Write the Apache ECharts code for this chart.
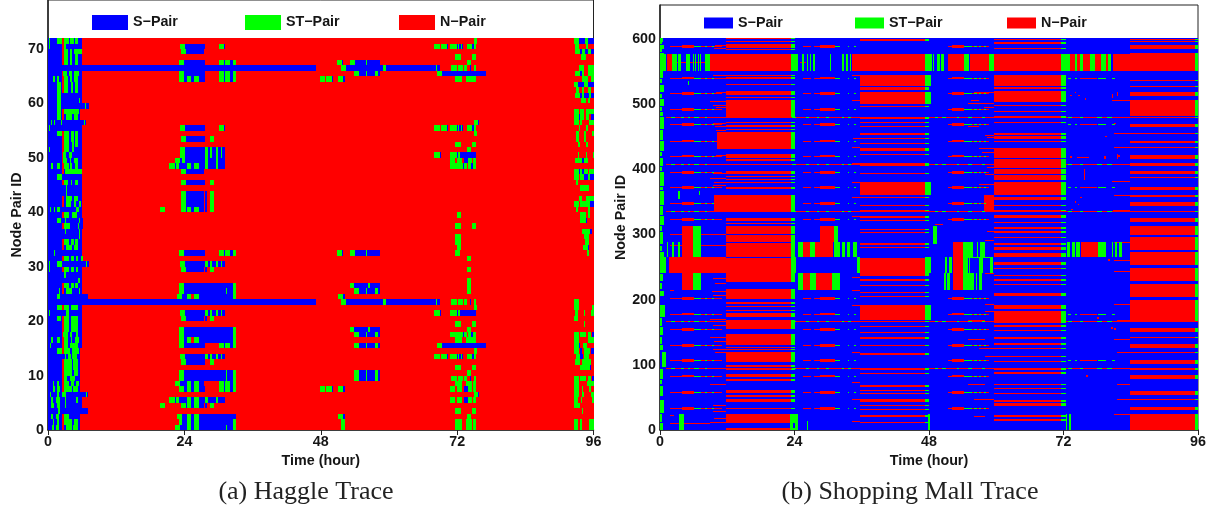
<!DOCTYPE html>
<html><head><meta charset="utf-8"><style>html,body{margin:0;padding:0;background:#fff}#c{width:1230px;height:512px}</style>
<script src="https://cdn.jsdelivr.net/npm/echarts@6/dist/echarts.min.js"></script></head><body><div id="c"></div>
<script>
const legendNames=['S\u2212Pair','ST\u2212Pair','N\u2212Pair'];
const xTicks=[0,24,48,72,96];

/* ---------- (a) Haggle: row groups, runs are [t0,t1,state] with S = blue, T = green ---------- */
const M1=[[23.2,24.1,'T'],[24.1,27.6,'S'],[30.1,30.9,'T'],[30.9,31.1,'S']];
const M2=[[23.4,24.25,'T'],[24.25,27.4,'S']];
const M3=[[23,23.9,'T'],[23.9,27.6,'S'],[30.1,30.9,'T'],[30.9,31.1,'S'],[31.1,32,'T'],[32,32.6,'S'],[32.6,33,'T']];
const M4=[[23,23.9,'T'],[23.9,24.4,'S'],[24.4,25.1,'T'],[25.1,25.7,'S'],[25.7,26.5,'T'],[26.5,27.6,'S'],[30.1,30.9,'T'],[30.9,31.1,'S'],[31.1,32,'T'],[32,32.6,'S'],[32.6,33,'T']];
const M5=[[23.4,24.25,'T'],[24.25,27.6,'S'],[28.5,29.3,'T']];
const M6=[[23.4,24.25,'T'],[24.25,27.4,'S'],[27.6,28,'S'],[28.5,29.3,'T']];
const M7=[[19.7,20.6,'T'],[23.4,24.25,'T'],[24.25,24.4,'S'],[24.4,25.1,'T'],[25.1,25.7,'S'],[25.7,26.5,'T'],[26.5,27.4,'S'],[27.6,28,'S'],[28.5,29.3,'T']];
const M8=[[23.2,24.1,'T'],[24.1,27.6,'S'],[27.6,28.1,'T'],[28.1,28.5,'S'],[28.5,28.9,'T'],[28.9,29.6,'S'],[29.6,29.9,'T'],[29.9,30.4,'S'],[30.4,30.6,'T'],[30.6,31.1,'S']];
const M9=[[21.3,22.3,'T'],[22.3,22.6,'S'],[22.6,23,'T'],[23,24.4,'S'],[24.4,25.1,'T'],[25.1,25.7,'S'],[25.7,26.5,'T'],[26.5,27.6,'S'],[27.6,28.1,'T'],[28.1,29.6,'S'],[29.6,29.9,'T'],[29.9,31.1,'S']];
const M10=[[22.3,23.2,'T'],[23.2,23.6,'S'],[23.6,24.1,'T'],[24.1,27.6,'S'],[27.6,28.1,'T'],[28.1,29.6,'S'],[29.6,29.9,'T'],[29.9,31.1,'S']];
const M11=[[23,23.9,'T'],[23.9,31.3,'S'],[31.3,31.5,'T'],[31.5,32.6,'S'],[32.6,33,'T']];
const M12=[[23,23.9,'T'],[23.9,32.6,'S'],[32.6,33,'T']];
const M13=[[22.3,23.2,'T'],[23.2,24.4,'S'],[24.4,25.1,'T'],[25.1,25.7,'S'],[25.7,26.5,'T'],[26.5,31.3,'S'],[31.3,31.5,'T'],[31.5,32.6,'S'],[32.6,33,'T']];
const M14=[[23,23.6,'T'],[23.6,24.4,'S'],[24.4,25.1,'T'],[25.1,25.7,'S'],[25.7,26.5,'T'],[26.5,32.6,'S'],[32.6,33,'T']];
const M15=[[22.7,23.6,'T'],[23.6,24.4,'S'],[24.4,25.1,'T'],[25.1,25.7,'S'],[25.7,26.5,'T'],[26.5,33,'S']];
const M16=[[22.7,23.6,'T'],[23.6,24.4,'S'],[24.4,25.1,'T'],[25.7,26.5,'T'],[26.5,32.6,'S'],[32.6,33,'T']];
const M17=[[23,23.9,'T'],[23.9,24.4,'S'],[24.4,25.1,'T'],[25.7,26.5,'T'],[26.5,32.6,'S'],[32.6,33,'T']];
const M18=[[22.3,23.2,'T'],[23.2,24.4,'S'],[24.4,25.1,'T'],[25.1,25.7,'S'],[25.7,26.5,'T'],[26.5,27.4,'S'],[30.1,30.9,'T'],[30.9,31.1,'S'],[31.1,32,'T'],[32,32.6,'S'],[32.6,33,'T']];
const H1=[[50.97,51.9,'T'],[51.9,52.2,'S']];
const H2=[[51.5,52.2,'T']];
const H3=[[47.8,48.7,'T'],[49,50,'T'],[50,50.1,'S'],[51.1,52,'T'],[52,52.2,'S']];
const H4=[[53.8,54.7,'T'],[54.7,55.9,'S'],[55.9,56.1,'T'],[56.1,57.5,'S'],[57.5,58,'T'],[58,58.5,'S']];
const H5=[[53.2,53.9,'T'],[53.9,56.4,'S'],[56.4,56.6,'T'],[56.6,58.5,'S']];
const H6=[[51.5,52.4,'T'],[52.4,59,'S'],[59,59.4,'T'],[59.4,68.2,'S'],[68.2,68.4,'T'],[68.4,68.9,'S']];
const H7=[[50.9,51.7,'T'],[51.7,52,'S'],[53.2,54,'T'],[54,55.9,'S'],[55.9,56.1,'T'],[56.1,58.5,'S']];
const L1=[[68,68.9,'T'],[69.2,70.2,'T'],[70.2,70.4,'S'],[70.8,71.9,'T'],[71.9,72.1,'S'],[72.1,72.4,'T'],[72.4,72.6,'S'],[72.6,72.9,'T'],[72.9,73.1,'S'],[73.7,74.6,'T'],[74.6,75,'S'],[75,75.3,'T']];
const L2=[[71.7,72.6,'T'],[74.7,75.4,'T']];
const L3=[[73.7,74.5,'T']];
const L4=[[70.9,71.9,'T'],[72.1,73,'T'],[73.2,73.8,'T'],[74.2,74.5,'S'],[74.9,75.3,'T'],[75,75.3,'S']];
const L5=[[68.4,69.3,'T'],[69.3,77.1,'S']];
const L6=[[71.7,72.8,'T'],[73.5,74.6,'T'],[74.8,75.3,'T']];
const L7=[[74.9,75.6,'T'],[75.6,75.9,'S']];
const L8=[[74.9,75.5,'T']];
const L9=[[68,68.9,'T'],[68.9,69.2,'S'],[70.8,71.9,'T'],[71.9,72.2,'S'],[72.2,72.5,'T'],[72.5,75.3,'S']];
const L10=[[70.8,71.7,'T'],[71.9,72.8,'T'],[73.2,74,'S'],[74,74.6,'T'],[74.8,75.3,'T']];
const L11=[[70.8,71.7,'T'],[71.9,72.8,'T'],[73.1,73.8,'S'],[74,74.4,'T'],[74.4,74.8,'S'],[74.8,75.3,'T']];
const hagglePairs=[[[70,55],M1],[[69,47],M2],[[67,65,32,15],M3],[[64,7],M4],[[53,45,12],M5],[[43,42,41,29,20],M6],[[40,4],M7],[[51,50,30,21,13],M8],[[48,5],M9],[[49],M10],[[25,9,10],M11],[[26,18,17],M12],[[0],M13],[[1],M14],[[2],M15],[[24],M16],[[16],M17],[[8],M18],
[[2,24],H1],[[1,0],H2],[[64,7],H3],[[65,25,17,15,10,9],H4],[[26,18],H5],[[66,23],H6],[[67,32],H7],
[[70,55,13],L1],[[68,64,52,37,19,16,11,3],L2],[[67,51,31,29,27,26,25,18,10,2],L3],[[48,17,9,66,23],L4],[[65,15],L5],[[64,16,8,0,1],L6],[[56,6],L7],[[71,54,22,14],L8],[[50,21],L9],[[49,5,7],L10],[[48,17],L11]];
const haggleIsolated=[[39,71.9,72.6],[35,71.7,72.6],[34,71.7,72.6],[33,71.9,72.6],[32,71.7,72.5]];
/* left strip: row, end of blue, solid (no red gap at 2.4-2.8), green runs */
const haggleStrip=[
[71,5.9,0,[[.2,.3],[1.6,2.4],[2.8,3.7],[3.9,4.5],[4.7,5.3]]],[70,5.9,0,[[.2,.4],[2.8,3.2]]],[69,5.9,0,[[2.8,3.6],[3.8,4.3],[4.5,5.9]]],[68,5.9,0,[[2.8,3.6],[3.8,4.3],[4.7,5.3]]],[67,5.9,0,[[2.8,3.6],[3.8,4.3],[4.7,5.3]]],
[66,47.1,1,[]],[65,5.9,0,[[2.6,3.4],[3.7,4.2],[4.5,5.5]]],[64,5.9,0,[[.9,1.3],[1.6,2],[2.9,3.6],[3.8,4.2],[4.5,5.3]]],[63,6,0,[[1.6,2.3],[2.8,3.6],[4,4.4],[4.7,5.3]]],[62,6,0,[[1.6,2.3],[2.8,3.6],[4,4.4],[4.7,5.3]]],
[61,5.9,1,[[1.6,2.3]]],[60,6,1,[[1.6,2.3],[5.4,5.6]]],[59,7.3,1,[[1.6,2.3],[6.5,6.7]]],[58,5.7,0,[[1.6,2.3],[2.8,5.5]]],[57,5.7,0,[[1.6,2.3],[3.2,4.2],[4.5,5.2]]],[56,6.6,1,[[.5,.7],[1,1.2],[2.2,2.5],[6.3,6.5]]],
[55,6,1,[[.2,.4]]],[54,5.9,0,[[1.6,2.4],[2.9,3.7],[4,4.5],[4.8,5.2]]],[53,6,0,[[2.9,3.7],[4,4.5],[4.8,5.2]]],[52,6,0,[[2.9,3.7],[4.2,4.5],[4.8,5.2]]],[51,6,0,[[.2,.4],[2.9,3.7],[4.2,4.5]]],[50,5.9,0,[[2.6,3.2],[3.7,4.3]]],[49,5.9,0,[[2.6,3.4],[3.8,4.1],[4.5,5.2]]],[48,5.9,0,[[.5,.8],[1.6,2.1],[2.8,3.7],[3.9,4.3],[4.7,5.3]]],
[47,5.9,0,[[3,5.9]]],[46,5.9,1,[[1.6,2.4]]],[45,5.9,0,[[2.8,3.6],[4,4.3],[4.7,5.2]]],[44,5.9,1,[[3.1,3.2]]],[43,5.9,1,[[3.1,3.2]]],[42,5.9,0,[[3.2,4.2],[4.5,5.3]]],[41,5.9,0,[[3.2,4.1],[4.5,5],[5.5,5.8]]],[40,5.9,1,[[.3,.5],[1,1.3],[1.6,2.1],[5,5.5]]],
[39,5.9,0,[[2.9,3.7],[4.2,5.1]]],[38,6.1,1,[[1.6,2.3],[3,3.2],[5.5,5.7]]],[37,6.1,0,[[2.9,3.9],[5.2,5.5]]],[36,5.9,1,[[3,3.2],[5.4,5.7]]],[35,6,1,[[5.4,5.7]]],[34,5.9,0,[[2.8,3.7],[4,4.5],[4.8,5.3]]],[33,5.9,0,[[3.2,4.2],[4.5,5.3]]],[32,5.9,1,[[1,1.3]]],
[31,6.1,0,[[2.8,3.7],[4,4.5],[5,5.2],[5.8,6.1]]],[30,7.3,1,[[.2,.4],[1.6,2.4],[6.6,6.8]]],[29,6,0,[[.2,.4],[2.9,3.7],[4,4.5],[5,5.3]]],[28,6,1,[[2.9,3.1]]],[27,5.9,1,[[5.3,5.7]]],[26,5.9,0,[[2.8,3.7],[4,4.5],[4.8,5.3]]],[25,5.9,0,[[1.9,2.1],[3.2,4.2],[5.5,5.7]]],[24,7,1,[[1.6,2.1]]],[23,47.1,1,[]],
[22,5.9,0,[[1.6,2.4],[2.9,3.7],[4,5.2]]],[21,5.9,1,[[.2,.4],[3.2,3.7]]],[20,5.9,0,[[1.6,2.3],[2.8,3.7],[4,5.3]]],[19,5.9,0,[[2.8,3.7],[4,5.3]]],[18,5.9,0,[[2.8,3.7],[4,5.3]]],[17,5.9,0,[[2.6,3.5],[3.8,4.2],[5,5.3]]],[16,5.9,0,[[.5,.8],[1.6,2.1],[2.8,3.6],[4.1,4.3],[4.8,5.4]]],[15,5.9,0,[[.3,.5],[2.8,3.5],[3.8,5.2]]],
[14,5.7,0,[[1.6,2.4],[2.8,3.8],[4.2,5.5]]],[13,5.7,1,[[3,3.2],[3.6,4],[4.3,5.1]]],[12,5.7,0,[[2.9,4.2],[4.4,5.2]]],[11,5.7,0,[[2.9,4.2],[4.4,5.2]]],[10,5.7,0,[[2.9,4.2],[4.5,5.3]]],[9,5.7,0,[[2.8,3.4],[3.9,4.8]]],[8,5.7,0,[[.9,1.1],[1.6,2],[2.9,3.7],[4,4.5],[5,5.5]]],[7,5.7,0,[[.8,1.2],[1.6,2.1],[2.8,4.2],[4.4,5.2]]],
[6,7,1,[[.3,.5],[1.6,2],[2.5,2.8],[2.9,3.1],[6.6,6.8]]],[5,5.9,1,[[.5,.9],[1.4,2.1],[3,3.2],[5,5.3]]],[4,5.9,1,[[.5,1],[1.6,2.1],[3,3.2]]],[3,7,1,[[1.7,2.1]]],[2,5.7,0,[[.5,.8],[1.4,2],[2.9,3.7]]],[1,5.7,0,[[.9,1.1],[1.6,2],[2.8,4.2],[4.5,5.2]]],[0,5.7,0,[[.7,1],[1.4,2],[3.2,4.2],[4.4,5.2]]]];
/* right strip: [row,t0,t1,state] */
const haggleTail=[[71,92.6,93.4,'T'],[71,93.4,94.5,'S'],[71,94.5,95,'T'],[71,95,96,'S'],[70,92.8,93.4,'T'],[70,94.7,95,'T'],[69,92.8,93.6,'T'],[69,93.7,94,'S'],[69,94,94.5,'T'],[69,94.5,95,'S'],[69,95,95.5,'T'],[69,95.5,96,'S'],[68,93.8,94.6,'T'],[66,93.5,94.3,'T'],[66,95,96,'T'],[65,92.8,93.7,'T'],[65,93.7,93.9,'S'],[65,93.9,94.3,'T'],[65,95,96,'T'],[64,94,95,'T'],[64,95.5,96,'T'],[63,92.6,93.3,'T'],[63,93.3,94.3,'S'],[63,94.3,95,'T'],[63,95,96,'S'],[62,93,93.5,'T'],[62,94,94.3,'T'],[62,95,95.5,'T'],[61,92.8,93.6,'T'],[61,93.6,94,'S'],[61,94,94.4,'T'],[61,94.4,95.2,'S'],[61,95.2,95.5,'T'],[61,95.5,96,'S'],[60,93.8,94.6,'T'],[60,95,95.4,'T'],
[58,92.6,93.4,'T'],[58,93.7,94.3,'T'],[58,94.7,96,'T'],[57,92.6,93.4,'T'],[57,93.4,93.7,'S'],[57,93.7,94.3,'T'],[57,94.7,95.2,'T'],[57,95.5,96,'S'],[56,92.6,93.4,'T'],[56,93.7,94,'T'],[56,95.2,96,'T'],[55,93.4,93.7,'T'],[55,94.7,95,'T'],[54,93,93.4,'T'],[54,94.3,94.6,'T'],[54,95.7,96,'T'],[53,93,93.4,'T'],[53,94.3,94.6,'T'],[52,93.3,93.7,'T'],[52,94.6,95,'T'],[50,93.3,93.5,'T'],[50,94.6,94.8,'T'],[50,95.9,96,'T'],[49,92.8,94,'T'],[49,94,94.3,'S'],[49,94.3,95,'T'],
[47,92.6,93.4,'T'],[47,93.4,93.6,'S'],[47,93.6,94,'T'],[47,94,94.3,'S'],[47,94.3,95,'T'],[47,95.2,96,'T'],[46,92.6,93.4,'T'],[46,93.7,94.4,'T'],[46,94.4,95,'S'],[46,95,95.3,'T'],[46,95.4,96,'S'],[45,92.9,93.3,'T'],[44,93.7,95.2,'T'],[42,93.5,94,'T'],[42,94.7,96,'T'],[41,92.6,93.4,'T'],[41,93.6,95.3,'T'],[41,95.4,96,'S'],[40,92.9,93.2,'T'],[40,95,95.3,'T'],[39,93.7,94.6,'T'],[39,95,95.3,'T'],[38,93.7,94.6,'T'],[38,94.6,94.8,'S'],[36,94,95.4,'T'],[36,95.4,95.7,'S'],[35,94.3,95.2,'T'],[34,94.5,95.2,'T'],[33,94.2,95,'T'],[33,95,95.2,'S'],[32,94.8,95.2,'T'],
[23,92.6,93.4,'T'],[22,92.6,93.4,'T'],[22,95.7,96,'T'],[21,92.8,93.3,'T'],[21,94.3,94.5,'T'],[21,95.5,96,'T'],[20,92.6,93.3,'T'],[19,94.4,94.5,'T'],[17,92.6,93.5,'T'],[17,93.7,94.6,'T'],[17,95,95.6,'T'],[17,95.7,96,'S'],[16,92.6,93.4,'T'],[16,95.1,96,'T'],[15,92.6,93.5,'T'],[15,93.5,93.7,'S'],[15,94.1,94.8,'T'],[14,92.6,93.5,'T'],[14,93.7,94,'S'],[14,94.4,95.3,'T'],[14,95.5,96,'S'],[13,93,93.6,'T'],[13,93.7,94.2,'S'],[13,94.4,95.2,'T'],[12,92.8,93.6,'T'],[12,94,95.5,'T'],[11,93.7,95.3,'T'],[11,95.3,95.6,'S'],[9,92.6,93.4,'T'],[9,93.7,94.6,'T'],[9,95,95.6,'T'],[9,95.7,96,'S'],[8,92.6,93.4,'T'],[8,94.8,96,'T'],[7,92.6,93.5,'T'],[7,94,94.2,'T'],[7,95.2,95.5,'T'],[6,92.6,93.4,'T'],[6,94,94.4,'T'],[6,95.6,96,'T'],[5,92.6,93.2,'T'],[5,93.8,94,'T'],[5,95.8,96,'T'],[4,92.6,93.6,'T'],[3,94,94.2,'T'],[1,92.6,93.3,'T'],[1,93.7,94,'T'],[1,95.2,96,'T'],[0,92.6,93.3,'T'],[0,93.7,94,'T'],[0,95.2,96,'T']];

/* ---------- (b) Shopping Mall: [vLow,vHigh] bands for the four daily columns ---------- */
const mallBandsA=[[599.2,600.7],[595.6,597],[585.9,592.5],[582.3,583.8],[550.6,577.2],[543,544.5],[539,541],[529,530.7],[514,520],[510,511],[480.6,506],[471,473],[465,468],[461,462],[431.5,457],[418,423],[412.6,415],[392,397],[388,389.5],[383,384.5],[379.5,380.5],[369,373],[335,360],[320.5,326],[316.5,318],[300.5,313],[288.5,299.5],[276.5,287.5],[265.5,275.5],[227.5,264.5],[201,217],[194,197],[188,190],[182.5,184],[173,179],[155,168.7],[130,147],[126,128],[122.5,123.5],[104.8,119.6],[96,99.7],[92.5,93.5],[81,86],[75.6,78],[56,61],[51,53.7],[43.5,47.5],[32,34],[10,24.5],[0,3]];
const mallBandsB=[[597,600],[550.6,577],[527,544],[521,526],[500,519],[495,496.5],[476.4,479.5],[471.5,473],[465,466],[453,455],[447,448],[440,441],[428,433],[422,423],[405,409],[393,394],[360,381],[356,358],[344,345],[336,337],[326,328],[321.5,322.5],[307,309],[302,304],[284,287],[279.5,280.5],[237,264],[229,231],[222,223],[210,212],[204,205],[168.7,192],[165.5,166.5],[157.5,159.5],[150,151],[139.5,142],[129,131],[115,117.6],[92,94.6],[86.5,87.5],[66.5,69],[60,62],[55,56],[43.5,47],[38,39],[31,32],[20.5,23],[12,13]];
const mallBandsC=[[599,600.5],[592.6,596],[585,586],[550.6,577],[528,544],[523,526],[503.6,520],[497,499],[489,490],[479,481],[471,473],[452,455],[447,451],[442,443],[425,432.5],[417,424.3],[402,415.6],[392.6,401],[383,391],[360,381],[353,358],[344,345],[336,337],[325.6,329.8],[318,319],[307.7,310.8],[302,305],[294.5,295.5],[284,287],[276,280],[266,272],[253,258],[247,248],[236,238.5],[229,232],[223,224],[206,210],[185,191],[164.6,182.5],[158,161],[152,153],[139.5,142],[131,134],[125,126],[113,114],[105,106],[92,95],[86,89],[69,70.5],[62.5,65],[56,57],[43.5,46],[37,41],[20.5,23],[14,17]];
const mallBandsD=[[599,600.5],[596.5,597.5],[584.4,590],[550.6,577.7],[535,537],[526,527],[512,518],[481.6,506],[479,480],[464.7,469],[455,456],[439.7,444],[433,434],[416,421.7],[405,409],[392.6,397],[386.5,387.5],[368,373],[358,361],[344,349.7],[335,336],[319.5,325],[299.6,313],[276,295.5],[253.6,273],[228.7,248.5],[204,224],[167,200],[150.8,156],[141.5,142.5],[125.8,131.4],[119,120],[102,107],[92.5,95],[78,83.8],[53.7,59.8],[47,48],[30.7,34.8],[0,24.5]];
const mallDayColumns=[[mallBandsA,11.8,23.3,24],[mallBandsB,35.7,47.3,48],[mallBandsC,59.6,71.6,72.4],[mallBandsD,83.9,95.4,96]];
/* periodic rows carrying a thin line, short thick blocks and green dashes */
const mallDashRows=[588.4,539.9,515.8,491.8,468.3,443.3,420.2,395.2,371.7,347.6,323.1,201.9,177.9,154.4,129.9,106.3,82.8,57.8,33.2];
const mallDashLines=[[1.8,11],[25.6,27],[27.5,31.4],[51.4,58.7]];
const mallDashBlocks=[[3.9,6],[28.6,31.2],[52.1,54.3]];
const mallDashGreens=[[6,7.3],[8,8.4],[9.2,9.6],[31.2,32.1],[33.5,33.8],[34.6,35],[54.3,55.6],[56,56.6],[57,57.3],[57.8,58.2]];
const mallSparseRows=[539.9,468.3,371.7,177.9,106.3];
const mallSparseLines=[[75,78]];
const mallSparseGreens=[[72.8,73.4],[74,74.4],[78.2,79.6],[80.6,81.2]];
const mallLongRows=[479.5,407,335,167,94.6];
const mallLongGreens=[[2,2.6],[3.7,4.2],[5,5.3],[6,7],[8,8.4],[23.5,24.2],[26,26.6],[28,28.3],[29.6,30.2],[32.4,32.9],[33.6,34],[49,49.6],[50.4,51],[53,53.4],[55,55.6],[57.4,58],[72.8,73.5],[75,75.4],[78,78.8],[79.8,80.6]];
/* extra red rectangles [t0,t1,vLow,vHigh] */
const mallExtraRed=[[1.2,2.1,551,577],[9,11.8,551,577],[34.2,35.7,551,577],[47.3,47.6,551,577],[51.4,54.3,551,577],[55.3,58.7,551,577],[73.2,74,551,577],[74.4,75,551,577],[75.5,76.7,551,577],[77.6,78.7,551,577],[79.6,79.9,551,577],[80.8,83.9,551,577],
[10.2,11.8,431.5,457],[9.7,11.8,335,360],[57.8,59.6,336,360],[3.9,5.8,266,313],[28.6,31,288,313],[25.6,26.8,266,288],[27.7,30.9,266,288],[52.2,54.1,241,288],[75.2,78.2,265,288],[1.6,11.8,241,265],[25.6,26.8,215,241],[27.7,30.7,215,241],[3.9,5.8,215,241],[52.2,54.1,215,241],
[9.8,11.8,590,591],[9.6,11.8,585,586.5],[9.4,11.8,543,544],[9.4,11.8,539.5,540.5],[10,11.8,518,519],[8.9,11.8,503,504],[9.5,11.8,498,499],[10,11.8,494,495],[9.5,11.8,470,471],[9.8,11.8,465,466],[10,11.8,460,461],[10,11.8,421,422],[9.4,11.8,394,395],[9,11.8,385,386],[9.6,11.8,379,380],[9.5,11.8,375,376],
[9.4,11.8,232,233],[9.8,11.8,225,226],[9.2,11.8,213,214],[9.5,11.8,206,207],[8.9,11.8,169,170],[9.5,11.8,160,161],[8.9,11.8,141,142],[9.6,11.8,135,136],[9.4,11.8,123,124],[9.8,11.8,118,119],[9,11.8,69,70],[9.5,11.8,38,39],[9.5,11.8,28,29],[9,11.8,12,13],[9.6,11.8,18,19],[1.7,9,10,11],[1.7,2.5,214,215],[1.7,2.5,22,23],
[34.2,35.7,543,544],[34.2,35.7,506,507],[34.2,35.7,479,480],[34.5,35.7,447,448],[34.2,35.7,433,434],[34.2,35.7,409,410],[34.2,35.7,379,380],[34.2,35.7,356,357],[34.2,35.7,328,329],[34.2,35.7,233,234],[34.2,35.7,214,215],[34.2,35.7,190,191],[34.2,35.7,119,120],[34.2,35.7,72,73],[34.2,35.7,47,48],[34.2,35.7,13,14],
[56,59.6,517,518],[55.5,57,506,507],[55,59.6,501,502],[57.8,59.6,495,496],[55,57,466,467],[58,59.6,452,453],[58.4,59.6,448,449],[57,59.6,432,433],[57.5,59.6,425,426],[58,59.6,407,408],[58.4,59.6,402,403],[57,59.6,376,377],[58,59.6,392,393],[58.4,59.6,305,306],[58,59.6,290,291],[58,59.6,240,241],[58,59.6,193,194],[58,59.6,181,182],[55,58,168,169],[57,59.6,125,126],[58,59.6,113,114],[55,58,138,139],[55,58,69,70],[56,59.6,46,47],[56,58,20,21],
[80.6,83.9,505,506],[81,83.9,455,456],[81,83.9,433,434],[80.6,83.9,381,382],[81,83.9,360,361],[80.8,83.9,336,337],[81,83.9,288,289],[81,83.9,260,261],[81,83.9,243,244],[81,83.9,193,194],[81.5,83.9,168,169],[81,83.9,139,140],[81.5,83.9,118,119],[81.5,83.9,69,70],[81.5,83.9,47,48],[81,83.9,23,24],
[1.8,9,564,565],[25,26,564,565],[49,50.5,315,316],[1.8,11.8,300,301],[25,30,276,277],[1.8,11.8,283,284],
[73.2,73.5,512,514],[74,74.3,517,519],[74.6,74.9,512,514],[75.8,76.1,507,509],[80.6,80.9,510,516],[81.5,81.8,513,518],[73.2,73.5,418,420],[74.4,76.5,418,419],[79.3,79.6,416,421],[81.5,81.8,416,423],[75.7,75.9,384,400],[79.4,79.7,449,451],[74,74.3,349,351],[75,75.3,356,358],[81.1,81.4,469,471],[81.8,82.1,419,422],[73.4,73.7,337,339],[74.5,74.8,345,347],[80,80.3,260,262],[78,78.3,170,173],[80.5,80.8,155,158],[81,81.3,153,156],[76,76.3,82,84]];
/* green rectangles [t0,t1,vLow,vHigh] */
const mallExtraGreen=[[0,1,551,577],[2.1,3.1,551,577],[3.2,3.8,551,577],[4.6,5.1,551,577],[5.2,5.4,551,577],[5.8,6,551,577],[6.2,6.5,551,577],[6.7,7,551,577],[7.1,7.4,551,577],[8.1,8.9,551,577],[23.8,24.6,551,577],[25.4,25.7,551,577],[26.2,26.4,551,577],[26.8,27,551,577],[27.3,27.7,551,577],[30.3,30.5,551,577],[32.4,32.8,551,577],[33.2,33.6,551,577],[33.9,34,551,577],[47.6,48.5,551,577],[48.7,48.9,551,577],[49.4,50,551,577],[50.2,50.7,551,577],[54.3,55.2,551,577],[58.7,59.6,551,577],[72.4,73.2,551,577],[74,74.4,551,577],[75,75.5,551,577],[76.7,77.6,551,577],[78.7,79.6,551,577],[79.9,80.5,551,577],
[5.8,7.3,266,313],[1.2,1.5,266,288],[2.1,2.5,266,288],[3.2,3.6,266,288],[31,31.8,288,313],[23.4,24.1,266,288],[24.7,25.5,266,288],[26.8,27.7,266,288],[31,32.1,266,288],[32.4,33,266,288],[33.3,33.9,266,288],[34.4,35.1,266,288],[54.1,55.9,265,288],[56.5,56.8,265,288],[57.1,58,265,288],[72.6,73.2,265,288],[73.5,74,265,288],[74.3,75,265,288],[78.2,79.6,265,288],[80.6,80.9,265,288],[81.2,81.6,265,288],[81.9,82.4,265,288],[48.8,49.4,285,313],
[23.4,24.3,241,265],[35.2,35.6,241,265],[47.3,48.3,241,265],[50.9,51.2,241,265],[51.5,52.1,241,265],[54.1,55,241,265],[55.2,55.4,241,265],[57,57.7,241,265],[58.8,59.5,241,265],[55,59.5,265,265.7],
[5.8,7.3,215,241],[24.7,25.5,215,241],[26.8,27.8,215,241],[30.7,32.1,215,241],[50.6,51,215,241],[51.3,51.8,215,241],[54.1,56,215,241],[56.3,56.5,215,241],[56.9,57.4,215,241],[3.4,4.2,0,24],[23.2,23.8,0,24],[24.1,24.6,0,24],[47.8,48.2,0,24],[72.4,72.7,0,24],[73,73.4,0,24],
[47.3,48.3,527,544],[47.3,48.3,500,519],[47.3,48.3,360,381],[47.3,48.3,168.7,192],[7,7.2,360,366],[3.2,3.6,354,366],[26.2,26.4,0,14],[5,5.2,530,535],
[0,.6,596,601],[0,.4,592,595],[0,.7,585,591],[0,.3,580,584],[0,.7,560,578],[0,.6,540,550],[0,.4,532,538],[0,.7,518,530],[0,.35,510,516],[0,.65,497,508],[0,.4,490,495],[0,.55,482,488],[0,.7,462,480],[0,.5,445,460],[0,.65,428,443],[0,.4,420,426],[0,.6,405,418],[0,.35,398,403],[0,.7,375,396],[0,.45,368,373],[0,.75,345,366],[0,.55,330,343],[0,.7,315,328],[0,.4,306,313],[0,.6,285,304],[0,.35,275,283],[0,.65,266,273],[0,1,241,265],[0,.5,228,239],[0,.35,216,226],[0,.65,205,214],[0,.85,174,192],[0,.4,160,172],[0,.6,145,158],[0,.35,132,143],[0,.5,122,130],[.3,1.1,96,119],[0,.55,78,94],[0,.35,70,76],[0,.5,52,68],[0,.8,26,46],[0,.4,12,24],[0,.55,0,10]];

/* ---------- assemble the rectangles from the arrays above ---------- */
const hRed=[[0,96,0,72]],hBlue=[],hGreen=[];
const hPut=(row,t0,t1,s)=>(s==='S'?hBlue:hGreen).push([t0,t1,row,row+1]);
hagglePairs.forEach(([rows,runs])=>rows.forEach(r=>runs.forEach(x=>hPut(r,x[0],x[1],x[2]))));
haggleIsolated.forEach(([r,a,b])=>hPut(r,a,b,'T'));
haggleStrip.forEach(([r,end,solid,greens])=>{
  if(solid)hPut(r,0,end,'S');else{hPut(r,0,2.4,'S');hPut(r,2.8,end,'S');}
  greens.forEach(g=>hPut(r,g[0],g[1],'T'));
});
haggleTail.forEach(([r,a,b,s])=>hPut(r,a,b,s));

const mBlue=[[0,96,0,601]],mRed=[],mGreen=[];
mallDashRows.forEach(v=>{
  mallDashLines.forEach(l=>mRed.push([l[0],l[1],v-.5,v+.5]));
  mallDashBlocks.forEach(b=>mRed.push([b[0],b[1],v-2,v+2]));
  mallDashGreens.forEach(g=>mGreen.push([g[0],g[1],v-.5,v+.5]));
});
mallSparseRows.forEach(v=>{
  mallSparseLines.forEach(l=>mRed.push([l[0],l[1],v-.5,v+.5]));
  mallSparseGreens.forEach(g=>mGreen.push([g[0],g[1],v-.5,v+.5]));
});
mallLongRows.forEach(v=>{
  mRed.push([1,96,v-.6,v+.6]);
  mallLongGreens.forEach(g=>mGreen.push([g[0],g[1],v-.6,v+.6]));
});
mallDayColumns.forEach(([bands,t0,t1,t2])=>bands.forEach(b=>{
  mRed.push([t0,t1,b[0],b[1]]);
  mGreen.push([t1,t2,b[0],b[1]]);
}));
mallExtraRed.forEach(r=>mRed.push(r));
mallExtraGreen.forEach(r=>mGreen.push(r));

function rectItem(params,api){
  const a=api.coord([api.value(0),api.value(3)]),b=api.coord([api.value(1),api.value(2)]);
  const x=Math.round(a[0]),y=Math.round(a[1]);
  return {type:'rect',shape:{x,y,width:Math.max(1,Math.round(b[0])-x),height:Math.max(1,Math.round(b[1])-y)},style:{fill:api.visual('color')}};
}
const colors={S:'#0000ff',T:'#00ff00',N:'#ff0000'};
const rectSeries=(name,color,data,i)=>({type:'custom',name,xAxisIndex:i,yAxisIndex:i,renderItem:rectItem,data,
  itemStyle:{color},encode:{x:[0,1],y:[2,3]},clip:true,silent:true,animation:false,progressive:0});
const font={fontFamily:'Liberation Sans',fontWeight:'bold',fontSize:14.3,color:'#151515'};
const gridDefs=[{left:48,top:0,width:545.5,height:430},{left:660,top:5,width:538,height:425}];
const xAxisDef=i=>({gridIndex:i,type:'value',min:xTicks[0],max:xTicks[4],interval:24,name:'Time (hour)',nameLocation:'middle',nameGap:19,nameTextStyle:font,
  axisLine:{show:true,onZero:false,lineStyle:{color:'#222',width:1.5}},axisTick:{show:false},splitLine:{show:false},axisLabel:{...font,margin:5}});
const xTopDef=i=>({gridIndex:i,type:'value',position:'top',min:xTicks[0],max:xTicks[4],interval:24,axisLine:{show:false},axisTick:{show:true,inside:true,length:5,lineStyle:{color:'#222'}},axisLabel:{show:false},splitLine:{show:false}});
const yAxisDef=(i,max,interval)=>({gridIndex:i,type:'value',min:0,max,interval,name:'Node Pair ID',nameLocation:'middle',nameGap:i?29:21,nameTextStyle:font,
  axisLine:{show:true,onZero:false,lineStyle:{color:'#222',width:1.5}},axisTick:{show:false},splitLine:{show:false},axisLabel:{...font,margin:4,showMaxLabel:false}});
const legendAt=(name,left,top,w,h)=>({data:[name],left,top,itemWidth:w,itemHeight:h,icon:'rect',itemGap:0,padding:0,selectedMode:false,textStyle:{...font,padding:[0,0,0,0]},itemStyle:{borderWidth:0}});

const chart=echarts.init(document.getElementById('c'),null,{renderer:'canvas'});
chart.setOption({
  animation:false,backgroundColor:'#fff',
  grid:gridDefs.map(g=>({...g,show:true,borderColor:'#222',borderWidth:1,backgroundColor:'#fff',containLabel:false})),
  xAxis:[xAxisDef(0),xAxisDef(1),xTopDef(0),xTopDef(1)],
  yAxis:[yAxisDef(0,79,10),yAxisDef(1,652,100)],
  legend:[legendAt(legendNames[0],92,15,36,15),legendAt(legendNames[1],245,15,36,15),legendAt(legendNames[2],399,15,36,15),
          legendAt(legendNames[0],704,16,29,11),legendAt(legendNames[1],855,16,29,11),legendAt(legendNames[2],1007,16,29,11)],
  series:[rectSeries(legendNames[2],colors.N,hRed,0),rectSeries(legendNames[0],colors.S,hBlue,0),rectSeries(legendNames[1],colors.T,hGreen,0),
          rectSeries(legendNames[0],colors.S,mBlue,1),rectSeries(legendNames[2],colors.N,mRed,1),rectSeries(legendNames[1],colors.T,mGreen,1)],
  graphic:[
    {type:'text',x:306,y:492,style:{text:'(a) Haggle Trace',font:'26px "Liberation Serif"',fill:'#222',textAlign:'center',textVerticalAlign:'middle'}},
    {type:'text',x:910,y:492,style:{text:'(b) Shopping Mall Trace',font:'26px "Liberation Serif"',fill:'#222',textAlign:'center',textVerticalAlign:'middle'}}
  ]
});
</script></body></html>
